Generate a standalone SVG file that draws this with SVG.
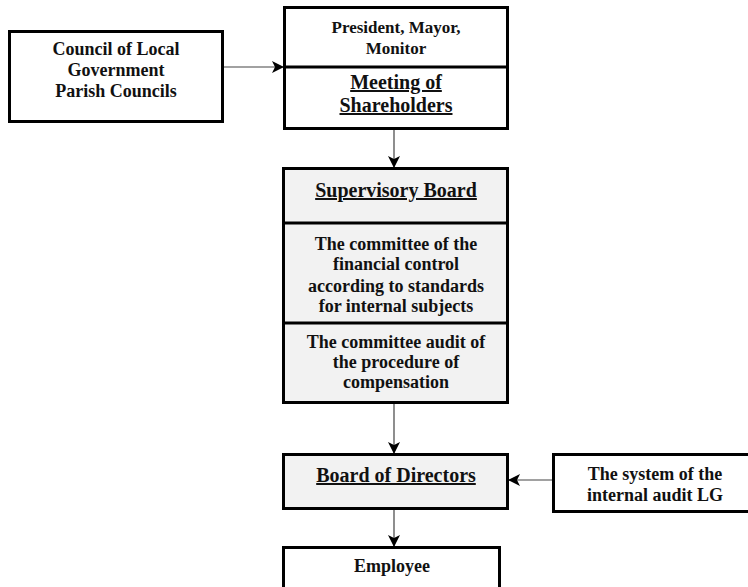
<svg xmlns="http://www.w3.org/2000/svg" width="748" height="587" viewBox="0 0 748 587">
<style>
.box{stroke:#000;stroke-width:3;fill:#fff}
.gray{fill:#f2f2f2}
.div{stroke:#000;stroke-width:3}
text{font-family:"Liberation Serif","Times New Roman",serif;font-weight:bold;fill:#111;text-anchor:middle}
.s16{font-size:17px}
.s18{font-size:18px}
.s20{font-size:20px}
.u{text-decoration:underline}
.conn{stroke:#444;stroke-width:1.2;fill:none}
</style>
<defs>
<marker id="ah" markerWidth="12" markerHeight="12" refX="11" refY="6" orient="auto" markerUnits="userSpaceOnUse">
<path d="M0,0 L12,6 L0,12 L3,6 z" fill="#000"/>
</marker>
</defs>
<rect width="748" height="587" fill="#fff"/>
<g id="connectors">
<line class="conn" x1="223" y1="67" x2="283" y2="67" marker-end="url(#ah)"/>
<line class="conn" x1="394" y1="129" x2="394" y2="167" marker-end="url(#ah)"/>
<line class="conn" x1="394" y1="403" x2="394" y2="453" marker-end="url(#ah)"/>
<line class="conn" x1="553" y1="480" x2="509" y2="480" marker-end="url(#ah)"/>
<line class="conn" x1="394" y1="509" x2="394" y2="546" marker-end="url(#ah)"/>
</g>
<g id="council">
<rect class="box" x="9.5" y="31.5" width="213" height="90"/>
<text class="s18" x="116" y="55">Council of Local</text>
<text class="s18" x="116" y="76">Government</text>
<text class="s18" x="116" y="97">Parish Councils</text>
</g>
<g id="shareholders">
<rect class="box" x="284.5" y="7.5" width="223" height="121"/>
<line class="div" x1="284.5" y1="67" x2="507.5" y2="67"/>
<text class="s16" x="396" y="33">President, Mayor,</text>
<text class="s16" x="396" y="54">Monitor</text>
<text class="s20 u" x="396" y="89">Meeting of</text>
<text class="s20 u" x="396" y="112">Shareholders</text>
</g>
<g id="supervisory">
<rect class="box gray" x="283.5" y="168.5" width="224" height="234"/>
<line class="div" x1="283.5" y1="223" x2="507.5" y2="223"/>
<line class="div" x1="283.5" y1="323" x2="507.5" y2="323"/>
<text class="s20 u" x="396" y="197">Supervisory Board</text>
<text class="s18" x="396" y="250">The committee of the</text>
<text class="s18" x="396" y="270">financial control</text>
<text class="s18" x="396" y="292">according to standards</text>
<text class="s18" x="396" y="312">for internal subjects</text>
<text class="s18" x="396" y="348">The committee audit of</text>
<text class="s18" x="396" y="368">the procedure of</text>
<text class="s18" x="396" y="388">compensation</text>
</g>
<g id="directors">
<rect class="box gray" x="283.5" y="454.5" width="224" height="54"/>
<text class="s20 u" x="396" y="482">Board of Directors</text>
</g>
<g id="audit">
<rect class="box" x="553.5" y="454.5" width="210" height="57"/>
<text class="s18" x="655" y="480">The system of the</text>
<text class="s18" x="655" y="501">internal audit LG</text>
</g>
<g id="employee">
<rect class="box" x="283.5" y="547.5" width="216" height="50"/>
<text class="s18" x="392" y="572">Employee</text>
</g>
</svg>
